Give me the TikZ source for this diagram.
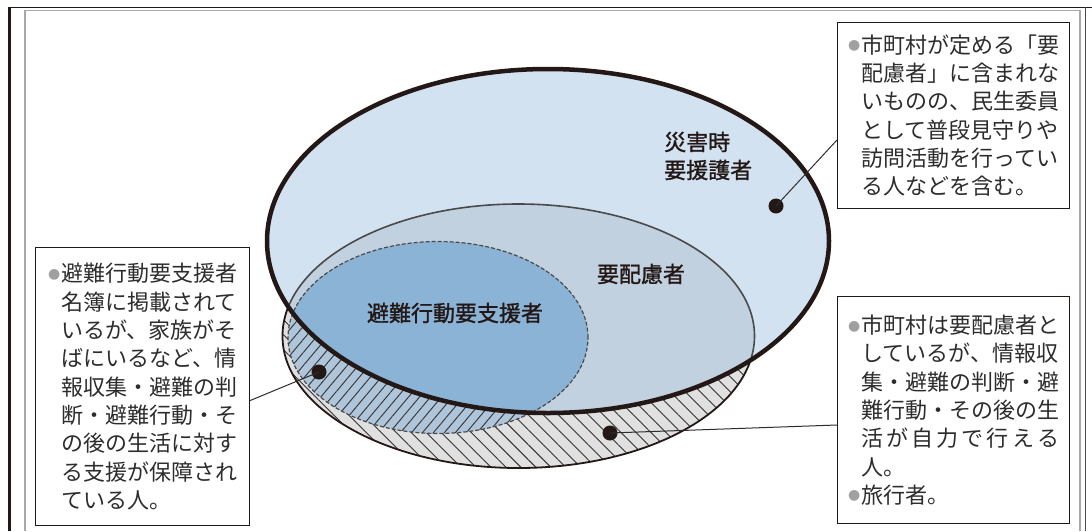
\documentclass[tikz,border=0pt]{standalone}
\usepackage{fontspec}
\setmainfont{Noto Sans CJK JP}
\newfontfamily\symfont{DejaVu Sans}
\newfontfamily\lblfamily{Noto Sans CJK JP}[FakeBold=1.2]
\usepackage{tikz}
\usetikzlibrary{patterns.meta, positioning}
\definecolor{inkblack}{RGB}{35, 24, 21}
\definecolor{bigblue}{RGB}{210, 226, 241}
\definecolor{midblue}{RGB}{194, 209, 223}
\definecolor{coreblue}{RGB}{138, 179, 214}
\definecolor{coreout}{RGB}{175, 197, 218}
\definecolor{midout}{RGB}{224, 224, 224}
\definecolor{edgegray}{RGB}{74, 74, 74}
\definecolor{hatchgray}{RGB}{50, 50, 50}
\definecolor{dotgray}{RGB}{160, 160, 160}
\definecolor{framegray}{RGB}{168, 168, 168}
\definecolor{textgray}{RGB}{45, 45, 45}
\newcommand{\boxfont}{\fontsize{22}{28.3}\selectfont}
\newcommand{\lblfont}{\fontsize{22}{28}\selectfont\lblfamily}
\newcommand{\bmark}{\makebox[13pt][l]{\raisebox{3.5pt}{\symfont\fontsize{14}{14}\selectfont\textcolor{dotgray}{●}}}}
\newcommand{\skipin}{\hspace*{13pt}}

\begin{document}
\begin{tikzpicture}[x=1pt, y=-1pt,
    callbox/.style={draw=inkblack, line width=1.3pt, fill=white, anchor=north west, align=left,
      inner xsep=10.5pt, text=textgray, font=\boxfont},
    lbl/.style={text=inkblack, font=\lblfont, inner sep=0pt},
    spot/.style={circle, fill=inkblack, inner sep=0pt, minimum size=15pt},
    leader/.style={draw=textgray, line width=1pt}]
  \useasboundingbox (0,0) rectangle (1092,531);

  % Page frame
  \draw[inkblack, line width=1.3pt] (8,7.5) -- (1092,7.5);
  \draw[inkblack, line width=2.7pt] (9.4,6.9) -- (9.4,531);
  \draw[framegray, line width=1.6pt] (24.8,531) -- (24.8,10.3) -- (1080,10.3) -- (1080,531);
  \draw[edgegray, line width=0.8pt] (1085.5,7) -- (1085.5,531);

  % Parts outside the outer ellipse (hatched)
  \fill[midout] (518.5,336) ellipse [x radius=236pt, y radius=132pt];
  \fill[pattern={Lines[angle=-45, distance=10.6pt, line width=0.9pt]}, pattern color=hatchgray]
    (518.5,336) ellipse [x radius=236pt, y radius=132pt];
  \fill[coreout] (438,337.5) ellipse [x radius=150pt, y radius=96pt];
  \fill[pattern={Lines[angle=50, distance=8.4pt, line width=0.9pt]}, pattern color=hatchgray]
    (438,337.5) ellipse [x radius=150pt, y radius=96pt];
  \draw[inkblack, line width=1.8pt] (518.5,336) ellipse [x radius=236pt, y radius=132pt];

  % Outer ellipse and the parts inside it
  \fill[bigblue] (548,241) ellipse [x radius=281pt, y radius=172pt];
  \begin{scope}
    \clip (548,241) ellipse [x radius=281pt, y radius=172pt];
    \fill[midblue] (518.5,336) ellipse [x radius=236pt, y radius=132pt];
    \fill[coreblue] (438,337.5) ellipse [x radius=150pt, y radius=96pt];
    \draw[edgegray, line width=1.6pt] (518.5,336) ellipse [x radius=236pt, y radius=132pt];
  \end{scope}

  % Outlines
  \draw[edgegray, line width=1.2pt, dash pattern=on 4pt off 2pt] (438,337.5) ellipse [x radius=150pt, y radius=96pt];
  \draw[inkblack, line width=4.5pt] (548,241) ellipse [x radius=281pt, y radius=172pt];

  % Labels
  \node[lbl, anchor=west, align=left] (lblBig) at (664,156) {災害時\\要援護者};
  \node[lbl] (lblMid) at (641,274) {要配慮者};
  \node[lbl] (lblCore) at (455,313) {避難行動要支援者};

  % Marker dots and leaders
  \node[spot] (spotBig) at (776,206) {};
  \node[spot] (spotCore) at (319,372) {};
  \node[spot] (spotMid) at (610,433) {};
  \coordinate (tipTop) at (837,140);
  \coordinate (tipLeft) at (249,401);
  \coordinate (tipRight) at (837,425);
  \draw[leader] (spotBig.center) -- (tipTop);
  \draw[leader] (spotCore.center) -- (tipLeft);
  \draw[leader] (spotMid.center) -- (tipRight);

  % Notes
  \node[callbox, text width=211pt, minimum height=186pt] (noteTop) at (837,22) {
    \bmark 市町村が定める「要\\
    \skipin 配慮者」に含まれな\\
    \skipin いものの、民生委員\\
    \skipin として普段見守りや\\
    \skipin 訪問活動を行ってい\\
    \skipin る人などを含む。};
  \node[callbox, text width=189pt, inner xsep=12.5pt, minimum height=278pt] (noteLeft) at (35,247) {
    \bmark 避難行動要支援者\\
    \skipin 名簿に掲載されて\\
    \skipin いるが、家族がそ\\
    \skipin ばにいるなど、情\\
    \skipin 報収集・避難の判\\
    \skipin 断・避難行動・そ\\
    \skipin の後の生活に対す\\
    \skipin る支援が保障され\\
    \skipin ている人。};
  \node[callbox, text width=211pt, minimum height=227pt] (noteRight) at (837,296) {
    \bmark 市町村は要配慮者と\\
    \skipin しているが、情報収\\
    \skipin 集・避難の判断・避\\
    \skipin 難行動・その後の生\\
    \skipin \makebox[198pt][s]{活\hfil が\hfil 自\hfil 力\hfil で\hfil 行\hfil え\hfil る}\\
    \skipin 人。\\
    \bmark 旅行者。};
\end{tikzpicture}
\end{document}
